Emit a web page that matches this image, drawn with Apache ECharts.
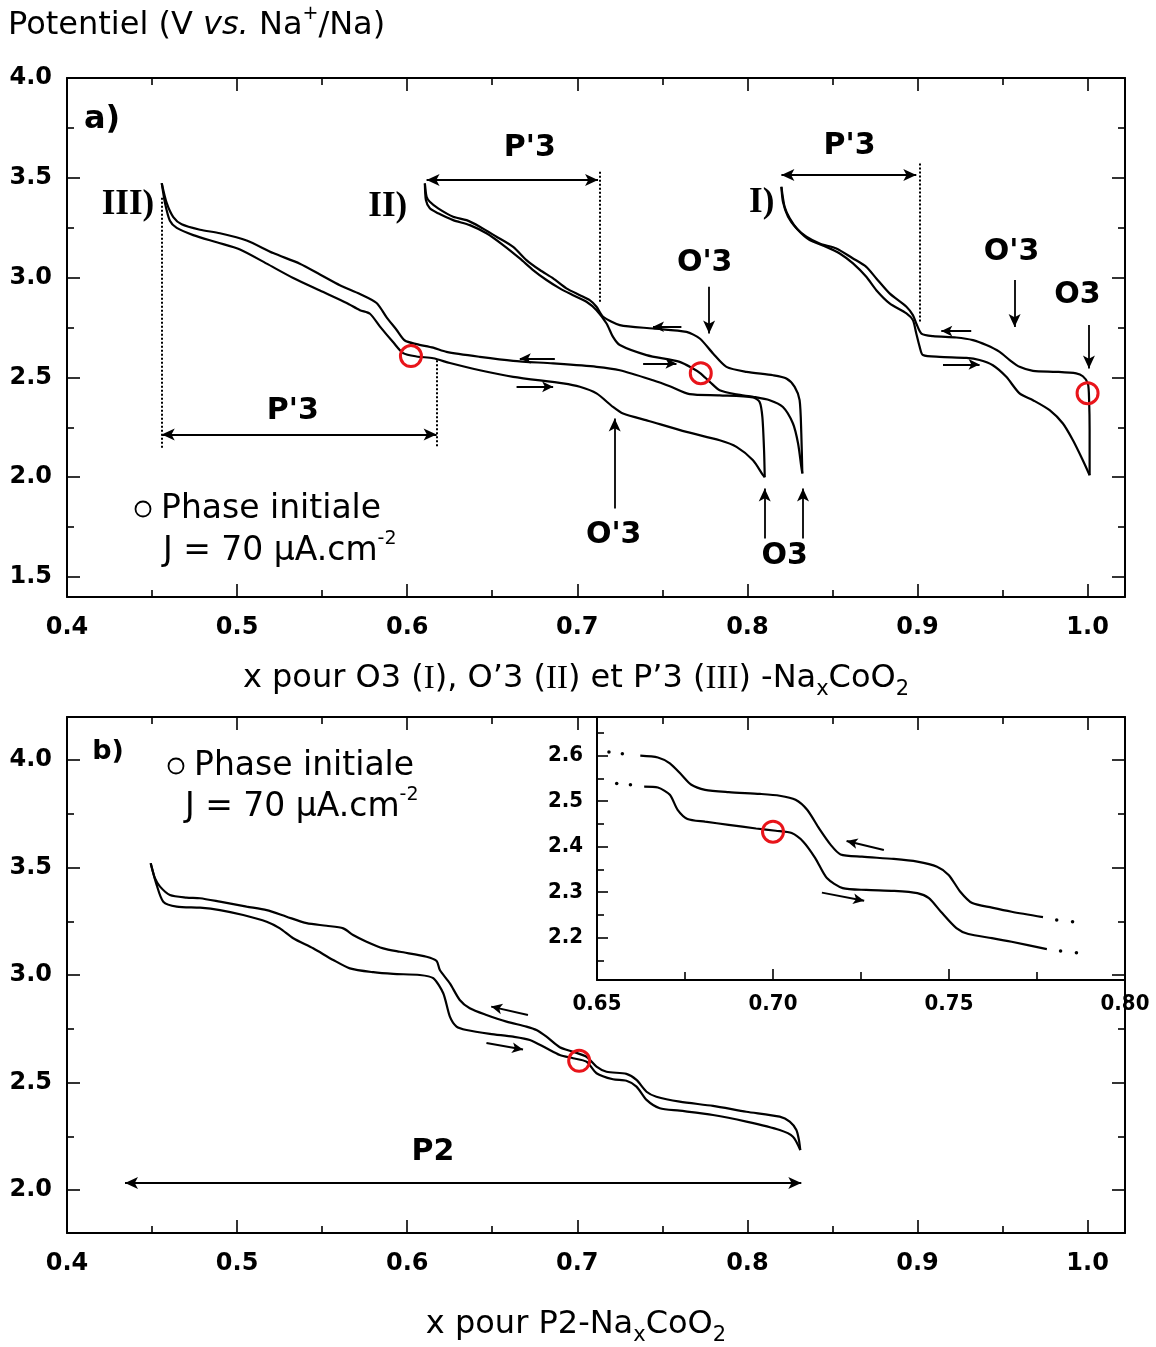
<!DOCTYPE html>
<html><head><meta charset="utf-8">
<script src="https://cdn.jsdelivr.net/npm/echarts@6/dist/echarts.min.js"></script>
<style>html,body{margin:0;padding:0;background:#fff}#c{width:1156px;height:1347px}</style>
</head><body><div id="c"></div>
<script>
// ---------------- DATA ----------------
// Panel a) : three cells, discharge (x increasing) then charge (x decreasing)
const cellIII_discharge = [[0.4557,3.473],[0.4576,3.374],[0.4605,3.285],[0.4645,3.249],[0.4742,3.213],[0.4880,3.177],[0.5017,3.141],[0.5174,3.070],[0.5330,2.998],[0.5487,2.935],[0.5644,2.873],[0.5722,2.837],[0.5781,2.819],[0.5839,2.756],[0.5918,2.676],[0.5976,2.622],[0.6055,2.605],[0.6153,2.596],[0.6251,2.572],[0.6427,2.536],[0.6623,2.503],[0.6917,2.470],[0.7015,2.453],[0.7113,2.420],[0.7210,2.352],[0.7269,2.319],[0.7420,2.282],[0.7642,2.227],[0.7837,2.185],[0.7936,2.152],[0.8033,2.085],[0.8092,2.010],[0.8102,2.000]];
const cellIII_charge = [[0.8102,2.000],[0.8098,2.135],[0.8088,2.302],[0.8072,2.377],[0.8033,2.400],[0.7837,2.410],[0.7661,2.416],[0.7544,2.456],[0.7445,2.486],[0.7250,2.536],[0.7113,2.553],[0.6858,2.570],[0.6623,2.583],[0.6427,2.603],[0.6231,2.628],[0.6153,2.649],[0.6055,2.667],[0.5986,2.685],[0.5937,2.739],[0.5879,2.801],[0.5820,2.873],[0.5722,2.918],[0.5604,2.962],[0.5487,3.016],[0.5369,3.070],[0.5212,3.123],[0.5056,3.186],[0.4899,3.222],[0.4782,3.240],[0.4674,3.267],[0.4625,3.303],[0.4586,3.374],[0.4557,3.473]];
const cellII_discharge = [[0.6104,3.472],[0.6110,3.389],[0.6133,3.347],[0.6182,3.322],[0.6270,3.288],[0.6368,3.263],[0.6466,3.222],[0.6564,3.163],[0.6662,3.096],[0.6740,3.038],[0.6819,2.988],[0.6897,2.946],[0.6975,2.912],[0.7054,2.879],[0.7113,2.837],[0.7172,2.770],[0.7210,2.703],[0.7250,2.662],[0.7407,2.612],[0.7602,2.578],[0.7680,2.545],[0.7720,2.523],[0.7779,2.478],[0.7837,2.436],[0.7936,2.415],[0.8033,2.403],[0.8131,2.386],[0.8209,2.352],[0.8268,2.269],[0.8298,2.169],[0.8317,2.052],[0.8323,2.019]];
const cellII_charge = [[0.8323,2.019],[0.8317,2.219],[0.8307,2.386],[0.8278,2.453],[0.8229,2.495],[0.8151,2.511],[0.7994,2.528],[0.7877,2.553],[0.7798,2.620],[0.7720,2.695],[0.7642,2.728],[0.7445,2.745],[0.7250,2.762],[0.7152,2.804],[0.7113,2.854],[0.7073,2.887],[0.7015,2.912],[0.6936,2.946],[0.6858,2.996],[0.6780,3.038],[0.6701,3.088],[0.6623,3.154],[0.6525,3.205],[0.6427,3.255],[0.6349,3.288],[0.6270,3.305],[0.6182,3.347],[0.6133,3.380],[0.6114,3.405],[0.6104,3.472]];
const cellI_discharge = [[0.8200,3.455],[0.8219,3.355],[0.8249,3.297],[0.8298,3.238],[0.8366,3.188],[0.8464,3.154],[0.8543,3.121],[0.8621,3.071],[0.8699,3.004],[0.8758,2.937],[0.8836,2.871],[0.8935,2.821],[0.8973,2.787],[0.8993,2.720],[0.9013,2.653],[0.9032,2.612],[0.9130,2.603],[0.9287,2.598],[0.9365,2.587],[0.9443,2.561],[0.9522,2.503],[0.9600,2.420],[0.9679,2.386],[0.9777,2.336],[0.9855,2.269],[0.9914,2.185],[0.9972,2.085],[1.0012,2.010]];
const cellI_charge = [[1.0012,2.010],[1.0012,2.236],[1.0009,2.386],[1.0002,2.470],[0.9972,2.506],[0.9933,2.520],[0.9816,2.528],[0.9679,2.533],[0.9600,2.553],[0.9542,2.587],[0.9483,2.628],[0.9405,2.662],[0.9326,2.687],[0.9228,2.700],[0.9091,2.707],[0.9023,2.720],[0.8993,2.770],[0.8973,2.812],[0.8935,2.854],[0.8836,2.921],[0.8758,2.996],[0.8699,3.054],[0.8621,3.096],[0.8523,3.146],[0.8425,3.171],[0.8347,3.205],[0.8288,3.247],[0.8239,3.305],[0.8209,3.380],[0.8200,3.455]];
const initialPhaseA = [[0.6022,2.607],[0.7726,2.521],[1.0000,2.421]];

// Panel b) : P2
const p2_discharge = [[0.4492,3.520],[0.4527,3.419],[0.4566,3.341],[0.4645,3.318],[0.4782,3.313],[0.4899,3.302],[0.5036,3.279],[0.5174,3.248],[0.5252,3.217],[0.5330,3.171],[0.5447,3.124],[0.5565,3.070],[0.5663,3.031],[0.5800,3.013],[0.5918,3.005],[0.6074,3.000],[0.6153,2.985],[0.6212,2.915],[0.6251,2.806],[0.6290,2.760],[0.6349,2.744],[0.6486,2.726],[0.6623,2.713],[0.6721,2.698],[0.6819,2.659],[0.6897,2.628],[0.6975,2.613],[0.7054,2.597],[0.7113,2.543],[0.7210,2.515],[0.7289,2.508],[0.7348,2.481],[0.7407,2.419],[0.7485,2.380],[0.7602,2.369],[0.7798,2.349],[0.7994,2.318],[0.8190,2.279],[0.8268,2.248],[0.8311,2.186]];
const p2_charge = [[0.8311,2.186],[0.8303,2.233],[0.8288,2.279],[0.8249,2.318],[0.8190,2.341],[0.7994,2.364],[0.7798,2.391],[0.7602,2.411],[0.7465,2.434],[0.7407,2.457],[0.7348,2.512],[0.7289,2.540],[0.7172,2.550],[0.7113,2.574],[0.7054,2.620],[0.6975,2.643],[0.6897,2.664],[0.6819,2.713],[0.6760,2.744],[0.6701,2.760],[0.6584,2.783],[0.6466,2.814],[0.6368,2.845],[0.6309,2.884],[0.6251,2.961],[0.6192,3.023],[0.6173,3.065],[0.6114,3.085],[0.5957,3.108],[0.5859,3.124],[0.5761,3.155],[0.5682,3.186],[0.5624,3.217],[0.5526,3.229],[0.5409,3.241],[0.5291,3.271],[0.5174,3.302],[0.5056,3.318],[0.4899,3.341],[0.4782,3.357],[0.4703,3.360],[0.4605,3.372],[0.4547,3.411],[0.4517,3.450],[0.4492,3.520]];
const initialPhaseB = [[0.7011,2.601]];

// Inset of panel b)
const inset_charge = [[0.6623,2.600],[0.6673,2.596],[0.6707,2.583],[0.6740,2.558],[0.6768,2.536],[0.6807,2.525],[0.6874,2.520],[0.6963,2.516],[0.7019,2.512],[0.7064,2.503],[0.7097,2.481],[0.7131,2.440],[0.7164,2.404],[0.7192,2.383],[0.7253,2.378],[0.7343,2.373],[0.7410,2.367],[0.7466,2.356],[0.7499,2.338],[0.7532,2.301],[0.7566,2.276],[0.7622,2.266],[0.7678,2.257],[0.7767,2.245]];
const inset_discharge = [[0.6634,2.532],[0.6673,2.530],[0.6707,2.514],[0.6729,2.481],[0.6757,2.461],[0.6807,2.455],[0.6874,2.448],[0.6952,2.440],[0.7008,2.435],[0.7053,2.430],[0.7086,2.411],[0.7120,2.375],[0.7153,2.331],[0.7198,2.309],[0.7265,2.305],[0.7343,2.303],[0.7410,2.298],[0.7443,2.287],[0.7477,2.257],[0.7521,2.221],[0.7555,2.208],[0.7622,2.199],[0.7678,2.191],[0.7778,2.175]];
const inset_dots = [[0.6534,2.608],[0.6572,2.604],[0.7806,2.239],[0.7851,2.235],[0.6556,2.539],[0.6595,2.536],[0.7817,2.171],[0.7862,2.167]];
const initialPhaseInset = [[0.7000,2.433]];

// Tick labels
const xTicks = [0.4,0.5,0.6,0.7,0.8,0.9,1.0];
const xMinorTicks = [0.45,0.55,0.65,0.75,0.85,0.95];
const yTicksA = [1.5,2.0,2.5,3.0,3.5,4.0];
const yMinorTicksA = [1.75,2.25,2.75,3.25,3.75];
const yTicksB = [2.0,2.5,3.0,3.5,4.0];
const yMinorTicksB = [2.25,2.75,3.25,3.75];
const insetXTicks = [0.65,0.70,0.75,0.80];
const insetXMinorTicks = [0.675,0.725,0.775];
const insetYTicks = [2.2,2.3,2.4,2.5,2.6];
const insetYMinorTicks = [2.15,2.25,2.35,2.45,2.55,2.65];

// Annotation texts [text, x, y, kind]
const labelsA = [["III)",0.4358,3.363,"roman"],["II)",0.5886,3.353,"roman"],["I)",0.8084,3.373,"roman"],
  ["P'3",0.6721,3.649,"phase"],["P'3",0.8601,3.659,"phase"],["P'3",0.5328,2.331,"phase"],
  ["O'3",0.7749,3.073,"phase"],["O'3",0.9553,3.128,"phase"],["O3",0.9941,2.912,"phase"],
  ["O'3",0.7214,1.709,"phase"],["O3",0.8219,1.604,"phase"]];
const labelsB = [["P2",0.6151,2.177,"phase"]];
// Annotation arrows / lines [x1,y1,x2,y2,kind]
const arrowsA = [[0.6114,3.489,0.7122,3.489,"double"],[0.8200,3.514,0.8993,3.514,"double"],[0.4557,2.214,0.6173,2.214,"double"],
  [0.4557,3.40,0.4557,2.148,"dotted"],[0.6173,2.586,0.6173,2.148,"dotted"],[0.7132,3.53,0.7132,2.871,"dotted"],[0.9013,3.572,0.9013,2.770,"dotted"],
  [0.7775,2.954,0.7775,2.720,"arrow"],[0.9571,2.988,0.9571,2.753,"arrow"],[1.0008,2.762,1.0008,2.545,"arrow"],
  [0.7220,1.843,0.7220,2.294,"arrow"],[0.8102,1.693,0.8102,1.943,"arrow"],[0.8327,1.693,0.8327,1.943,"arrow"],
  [0.7612,2.754,0.7445,2.754,"small"],[0.7387,2.570,0.7583,2.570,"small"],[0.6868,2.595,0.6662,2.595,"small"],
  [0.6643,2.453,0.6858,2.453,"small"],[0.9316,2.732,0.9140,2.732,"small"],[0.9150,2.565,0.9365,2.565,"small"]];
const arrowsB = [[0.4341,2.033,0.8317,2.033,"double"],[0.6710,2.814,0.6494,2.853,"small"],[0.6466,2.684,0.6681,2.653,"small"]];
const arrowsInset = [[0.7315,2.3927,0.7209,2.4125,"small"],[0.7139,2.299,0.7259,2.281,"small"]];

// ---------------- CHART ----------------
const SANS = "'DejaVu Sans', 'Liberation Sans', Arial, sans-serif";
const SERIF = "'Liberation Serif', 'DejaVu Serif', 'Times New Roman', serif";
const NARROW = "'Liberation Sans Narrow', 'DejaVu Sans Condensed', 'Liberation Sans', sans-serif";

const xAxis = [], yAxis = [];
function axis(gi, pos, min, max, ticks, len, showLine, lab) {
  const o = {type:'value', gridIndex:gi, position:pos, min:min, max:max,
    axisLine: showLine ? {show:true, onZero:false, lineStyle:{color:'#000', width:2}} : {show:false, onZero:false},
    axisTick: {show:true, inside:true, length:len, customValues:ticks, lineStyle:{color:'#000', width:1.6}},
    axisLabel: {show:false}, splitLine:{show:false}, splitArea:{show:false}, minorTick:{show:false}, silent:true};
  if (lab) o.axisLabel = {show:true, customValues:ticks, formatter:function(v){return v.toFixed(lab.dec);},
    color:'#000', fontFamily:lab.font || SANS, fontWeight:'bold', fontSize:lab.size, margin:lab.margin};
  return o;
}
function add(arr, o){ arr.push(o); return arr.length-1; }

// grid 0 (panel a)
const xa = add(xAxis, axis(0,'bottom',0.4,1.022,xTicks,13,true,{dec:1,size:24,margin:19}));
add(xAxis, axis(0,'bottom',0.4,1.022,xMinorTicks,7,false));
add(xAxis, axis(0,'top',0.4,1.022,xTicks,13,true));
add(xAxis, axis(0,'top',0.4,1.022,xMinorTicks,7,false));
const ya = add(yAxis, axis(0,'left',1.4,4.0,yTicksA,13,true,{dec:1,size:24,margin:15}));
add(yAxis, axis(0,'left',1.4,4.0,yMinorTicksA,7,false));
add(yAxis, axis(0,'right',1.4,4.0,yTicksA,13,true));
add(yAxis, axis(0,'right',1.4,4.0,yMinorTicksA,7,false));
// grid 1 (panel b)
const xb = add(xAxis, axis(1,'bottom',0.4,1.022,xTicks,13,true,{dec:1,size:24,margin:19}));
add(xAxis, axis(1,'bottom',0.4,1.022,xMinorTicks,7,false));
add(xAxis, axis(1,'top',0.4,1.022,xTicks,13,true));
add(xAxis, axis(1,'top',0.4,1.022,xMinorTicks,7,false));
const yb = add(yAxis, axis(1,'left',1.8,4.2,yTicksB,13,true,{dec:1,size:24,margin:15}));
add(yAxis, axis(1,'left',1.8,4.2,yMinorTicksB,7,false));
add(yAxis, axis(1,'right',1.8,4.2,yTicksB,13,true));
add(yAxis, axis(1,'right',1.8,4.2,yMinorTicksB,7,false));
// grid 2 (inset)
const xi = add(xAxis, axis(2,'bottom',0.65,0.80,insetXTicks,11,true,{dec:2,size:22,margin:13,font:NARROW}));
add(xAxis, axis(2,'bottom',0.65,0.80,insetXMinorTicks,8,false));
const yi = add(yAxis, axis(2,'left',2.107,2.685,insetYTicks,11,true,{dec:1,size:22,margin:14,font:NARROW}));
add(yAxis, axis(2,'left',2.107,2.685,insetYMinorTicks,7,false));

function curve(data, x, y) {
  return {type:'line', xAxisIndex:x, yAxisIndex:y, data:data, symbol:'none', showSymbol:false, smooth:0.25,
    lineStyle:{color:'#000', width:2.2}, silent:true, animation:false, z:3};
}
function mlData(list) {
  return list.map(function(a){
    const k = a[4];
    let s1='none', s2='arrow', sz=[9,13], lw=1.8, tp='solid';
    if (k==='double') { s1='arrow'; s2='arrow'; sz=[9,13]; }
    else if (k==='dotted') { s1='none'; s2='none'; lw=2; tp='dotted'; }
    else if (k==='small') { sz=[8,11]; lw=2; }
    return [{coord:[a[0],a[1]], symbol:s1, symbolSize:sz, lineStyle:{color:'#000', width:lw, type:tp}},
            {coord:[a[2],a[3]], symbol:s2, symbolSize:sz}];
  });
}
function withMarks(series, list) {
  series.markLine = {silent:true, animation:false, symbol:['none','arrow'], label:{show:false},
    emphasis:{disabled:true}, lineStyle:{color:'#000', width:1.8, type:'solid'}, data:mlData(list)};
  return series;
}
function circles(data, x, y) {
  return {type:'scatter', xAxisIndex:x, yAxisIndex:y, data:data, symbol:'circle', symbolSize:21, silent:true, animation:false, z:10,
    itemStyle:{color:'rgba(0,0,0,0)', borderColor:'#e8141a', borderWidth:3, opacity:1}};
}
function texts(list, x, y) {
  return {type:'scatter', xAxisIndex:x, yAxisIndex:y, symbolSize:1, silent:true, animation:false, z:12,
    itemStyle:{color:'rgba(0,0,0,0)', opacity:1}, labelLayout:{hideOverlap:false},
    label:{show:true, position:'inside', color:'#000', opacity:1},
    data:list.map(function(a){
      return {value:[a[1],a[2]], label: a[3]==='roman'
        ? {formatter:a[0], fontFamily:SERIF, fontWeight:'bold', fontSize:35, color:'#000', opacity:1}
        : {formatter:a[0], fontFamily:SANS, fontWeight:'bold', fontSize:30, color:'#000', opacity:1}};
    })};
}

const series = [
  withMarks(curve(cellIII_discharge, xa, ya), arrowsA),
  curve(cellIII_charge, xa, ya),
  curve(cellII_discharge, xa, ya),
  curve(cellII_charge, xa, ya),
  curve(cellI_discharge, xa, ya),
  curve(cellI_charge, xa, ya),
  circles(initialPhaseA, xa, ya),
  texts(labelsA, xa, ya),
  withMarks(curve(p2_discharge, xb, yb), arrowsB),
  curve(p2_charge, xb, yb),
  circles(initialPhaseB, xb, yb),
  texts(labelsB, xb, yb),
  withMarks(curve(inset_charge, xi, yi), arrowsInset),
  curve(inset_discharge, xi, yi),
  {type:'scatter', xAxisIndex:xi, yAxisIndex:yi, data:inset_dots, symbolSize:3.5, silent:true, animation:false, itemStyle:{color:'#000', opacity:1}},
  circles(initialPhaseInset, xi, yi)
];

function rt(x, y, text, rich, align) {
  return {type:'text', x:x, y:y, z:20, silent:true,
    style:{text:text, rich:rich, fill:'#000', fontFamily:SANS, fontSize:33,
      align:align, textAlign:align, verticalAlign:'middle', textVerticalAlign:'middle'}};
}
const richBase = {
  n:{fontFamily:SANS, fontSize:32, lineHeight:42, fill:'#000'},
  i:{fontFamily:SANS, fontSize:32, fontStyle:'italic', lineHeight:42, fill:'#000'},
  r:{fontFamily:SERIF, fontSize:33, lineHeight:42, fill:'#000'},
  s:{fontFamily:SANS, fontSize:19, lineHeight:20, verticalAlign:'top', fill:'#000'},
  b:{fontFamily:SANS, fontSize:21, lineHeight:22, verticalAlign:'bottom', fill:'#000'},
  L:{fontFamily:SANS, fontSize:33, lineHeight:42, fill:'#000'},
  Ls:{fontFamily:SANS, fontSize:19, lineHeight:20, verticalAlign:'top', fill:'#000'}
};
const graphic = [
  rt(8, 26, "{n|Potentiel (V }{i|vs.}{n| Na}{s|+}{n|/Na)}", richBase, 'left'),
  rt(576, 679, "{n|x pour O3 (}{r|I}{n|), O\u20193 (}{r|II}{n|) et P\u20193 (}{r|III}{n|) -Na}{b|x}{n|CoO}{b|2}", richBase, 'center'),
  rt(576, 1325, "{n|x pour P2-Na}{b|x}{n|CoO}{b|2}", richBase, 'center'),
  {type:'text', x:102, y:120, z:20, silent:true, style:{text:'a)', fill:'#000', fontFamily:SANS, fontWeight:'bold', fontSize:32, align:'center', textAlign:'center', verticalAlign:'middle', textVerticalAlign:'middle'}},
  {type:'text', x:108, y:752, z:20, silent:true, style:{text:'b)', fill:'#000', fontFamily:SANS, fontWeight:'bold', fontSize:27, align:'center', textAlign:'center', verticalAlign:'middle', textVerticalAlign:'middle'}},
  {type:'circle', shape:{cx:143, cy:509, r:7.5}, z:20, silent:true, style:{fill:'none', stroke:'#000', lineWidth:1.8}},
  rt(161, 509, "{L|Phase initiale}", richBase, 'left'),
  rt(163, 551, "{L|J = 70 \u00b5A.cm}{Ls|-2}", richBase, 'left'),
  {type:'circle', shape:{cx:176, cy:766, r:7.5}, z:20, silent:true, style:{fill:'none', stroke:'#000', lineWidth:1.8}},
  rt(194, 766, "{L|Phase initiale}", richBase, 'left'),
  rt(185, 807, "{L|J = 70 \u00b5A.cm}{Ls|-2}", richBase, 'left')
];

const chart = echarts.init(document.getElementById('c'), null, {renderer:'canvas', width:1156, height:1347});
chart.setOption({
  animation:false,
  backgroundColor:'#fff',
  textStyle:{fontFamily:SANS},
  grid:[
    {left:67, top:78, width:1058, height:519, containLabel:false},
    {left:67, top:717, width:1058, height:516, containLabel:false},
    {left:597, top:717, width:528, height:263, containLabel:false}
  ],
  xAxis:xAxis, yAxis:yAxis, series:series, graphic:graphic
});
</script></body></html>
